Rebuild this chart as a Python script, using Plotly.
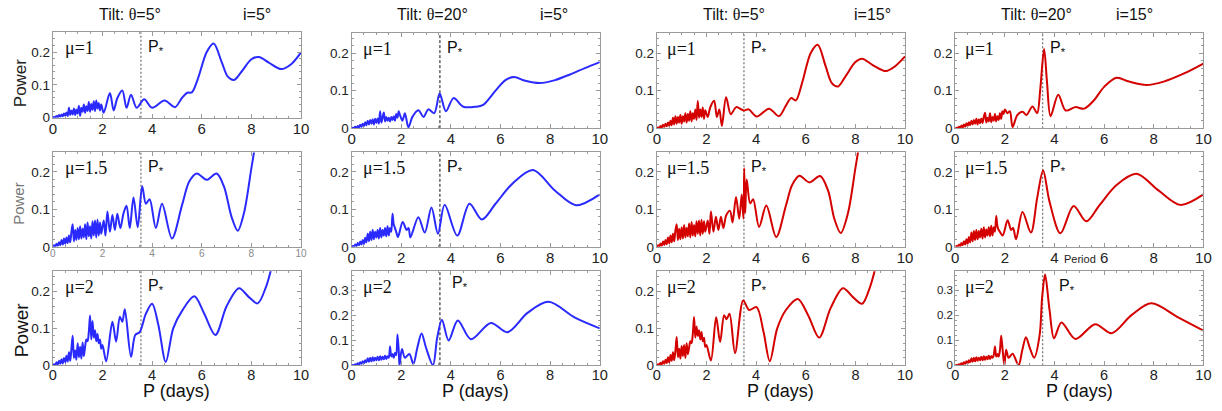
import plotly.graph_objects as go

W, H = 1222, 411

# ---------------- data ----------------
NOISE_P = [0.00, 0.05, 0.10, 0.15, 0.20, 0.25, 0.30, 0.35, 0.40, 0.45,
           0.50, 0.55, 0.60, 0.65, 0.70, 0.75, 0.80, 0.85, 0.90, 0.95,
           1.00, 1.05, 1.10, 1.15, 1.20, 1.25, 1.30, 1.35, 1.40, 1.45,
           1.50, 1.55, 1.60, 1.65, 1.70, 1.75, 1.80, 1.85, 1.90, 1.95]

# Row 1, column 1 (tilt 5, i=5, mu=1)
R1C1_NOISE = [0.000, 0.002, 0.001, 0.005, 0.002, 0.008, 0.003, 0.010, 0.004, 0.013,
              0.006, 0.016, 0.005, 0.030, 0.008, 0.022, 0.010, 0.028, 0.008, 0.025,
              0.012, 0.036, 0.006, 0.030, 0.018, 0.040, 0.015, 0.035, 0.020, 0.048,
              0.018, 0.042, 0.024, 0.050, 0.020, 0.052, 0.028, 0.045, 0.022, 0.040]
R1C1_P = [2.05, 2.3, 2.45, 2.6, 2.8, 2.97, 3.15, 3.38, 3.68, 4.0, 4.5, 4.92, 5.2, 5.42,
          5.6, 5.85, 6.2, 6.48, 6.8, 7.05, 7.3, 7.6, 8.0, 8.3, 8.7, 9.2, 9.6, 10.0]
R1C1_POW = [0.015, 0.075, 0.022, 0.06, 0.083, 0.03, 0.07, 0.03, 0.056, 0.03, 0.052, 0.032,
            0.06, 0.076, 0.077, 0.12, 0.2, 0.226, 0.17, 0.125, 0.115, 0.14, 0.178, 0.185,
            0.168, 0.148, 0.163, 0.199]

# Row 2, column 1 (mu=1.5)
R2C1_NOISE = [0.000, 0.004, 0.001, 0.008, 0.003, 0.012, 0.004, 0.018, 0.006, 0.022,
              0.008, 0.025, 0.010, 0.030, 0.012, 0.040, 0.060, 0.015, 0.045, 0.018,
              0.050, 0.020, 0.055, 0.022, 0.048, 0.025, 0.060, 0.020, 0.065, 0.028,
              0.055, 0.022, 0.068, 0.030, 0.070, 0.025, 0.072, 0.030, 0.065, 0.035]
R2C1_P = [2.05, 2.12, 2.2, 2.3, 2.4, 2.5, 2.6, 2.72, 2.85, 2.97, 3.1, 3.25, 3.42, 3.6,
          3.75, 3.9, 4.15, 4.4, 4.8, 5.2, 5.5, 5.8, 6.2, 6.6, 6.9, 7.2, 7.45, 7.7, 8.0,
          8.2, 8.4]
R2C1_POW = [0.07, 0.03, 0.094, 0.04, 0.085, 0.045, 0.088, 0.05, 0.09, 0.11, 0.05, 0.132,
            0.052, 0.162, 0.115, 0.127, 0.05, 0.115, 0.022, 0.11, 0.175, 0.196, 0.179,
            0.196, 0.16, 0.08, 0.043, 0.09, 0.21, 0.29, 0.36]

# Row 3, column 1 (mu=2)
R3C1_NOISE = [0.000, 0.003, 0.001, 0.008, 0.002, 0.012, 0.004, 0.016, 0.005, 0.020,
              0.008, 0.026, 0.010, 0.035, 0.012, 0.045, 0.080, 0.020, 0.040, 0.015,
              0.060, 0.022, 0.050, 0.018, 0.062, 0.025, 0.050, 0.070, 0.065, 0.090,
              0.135, 0.070, 0.120, 0.075, 0.095, 0.065, 0.085, 0.060, 0.070, 0.045]
R3C1_P = [2.0, 2.15, 2.4, 2.55, 2.7, 2.8, 2.9, 3.15, 3.32, 3.5, 3.75, 4.0, 4.25, 4.55,
          4.85, 5.2, 5.7, 6.1, 6.55, 7.0, 7.5, 7.9, 8.25, 8.6, 8.9, 9.1]
R3C1_POW = [0.055, 0.011, 0.118, 0.064, 0.132, 0.118, 0.152, 0.023, 0.082, 0.09, 0.14,
            0.167, 0.11, 0.009, 0.1, 0.147, 0.187, 0.14, 0.082, 0.16, 0.209, 0.185,
            0.168, 0.215, 0.29, 0.35]

# Row 1, column 2 (tilt 20, i=5, mu=1)
R1C2_NOISE = [0.000, 0.001, 0.000, 0.004, 0.001, 0.006, 0.002, 0.009, 0.004, 0.012,
              0.005, 0.016, 0.008, 0.020, 0.010, 0.022, 0.012, 0.024, 0.010, 0.025,
              0.014, 0.026, 0.012, 0.045, 0.015, 0.028, 0.042, 0.018, 0.030, 0.020,
              0.028, 0.018, 0.030, 0.022, 0.032, 0.020, 0.038, 0.028, 0.045, 0.035]
R1C2_P = [2.05, 2.15, 2.29, 2.45, 2.69, 2.9, 3.09, 3.33, 3.55, 3.8, 4.11, 4.5, 5.0, 5.3,
          5.8, 6.2, 6.55, 7.0, 7.58, 8.2, 8.8, 9.4, 10.0]
R1C2_POW = [0.02, 0.04, 0.002, 0.03, 0.048, 0.03, 0.05, 0.04, 0.092, 0.045, 0.08, 0.057,
            0.057, 0.062, 0.1, 0.128, 0.136, 0.126, 0.12, 0.128, 0.143, 0.16, 0.176]

# Row 2, column 2
R2C2_NOISE = [0.000, 0.002, 0.001, 0.006, 0.002, 0.010, 0.004, 0.014, 0.006, 0.018,
              0.008, 0.024, 0.012, 0.035, 0.015, 0.040, 0.018, 0.045, 0.020, 0.040,
              0.025, 0.045, 0.022, 0.050, 0.025, 0.045, 0.030, 0.050, 0.028, 0.055,
              0.030, 0.050, 0.040, 0.088, 0.060, 0.050, 0.040]
R2C2_P = [1.87, 2.06, 2.22, 2.3, 2.37, 2.69, 2.95, 3.22, 3.48, 3.75, 4.26, 4.75, 5.25,
          5.8, 6.5, 7.31, 8.2, 9.04, 10.0]
R2C2_POW = [0.026, 0.066, 0.045, 0.05, 0.025, 0.079, 0.038, 0.105, 0.035, 0.112, 0.03,
            0.115, 0.073, 0.115, 0.17, 0.205, 0.15, 0.111, 0.14]

# Row 3, column 2
R3C2_NOISE = [0.000, 0.001, 0.000, 0.004, 0.002, 0.008, 0.003, 0.012, 0.006, 0.016,
              0.008, 0.020, 0.012, 0.028, 0.014, 0.030, 0.016, 0.032, 0.018, 0.030,
              0.020, 0.034, 0.020, 0.036, 0.022, 0.034, 0.024, 0.038, 0.025, 0.036,
              0.030, 0.075, 0.035, 0.045, 0.030, 0.050, 0.040, 0.123, 0.060]
R3C2_P = [1.93, 2.03, 2.15, 2.33, 2.49, 2.65, 2.82, 3.0, 3.28, 3.45, 3.64, 3.91, 4.28,
          4.81, 5.61, 6.28, 7.1, 7.94, 9.0, 10.0]
R3C2_POW = [0.0, 0.065, 0.03, 0.045, 0.005, 0.07, 0.127, 0.07, 0.0, 0.11, 0.182, 0.099,
            0.179, 0.104, 0.169, 0.132, 0.21, 0.253, 0.19, 0.147]

# Row 1, column 3 (tilt 5, i=15, mu=1)
R1C3_NOISE = [0.000, 0.002, 0.001, 0.006, 0.002, 0.009, 0.004, 0.012, 0.005, 0.015,
              0.006, 0.020, 0.008, 0.028, 0.010, 0.032, 0.012, 0.030, 0.015, 0.035,
              0.012, 0.032, 0.018, 0.040, 0.015, 0.038, 0.020, 0.045, 0.018, 0.040,
              0.025, 0.050, 0.022, 0.072, 0.028, 0.050, 0.030, 0.055, 0.025, 0.048]
R1C3_P = [2.05, 2.15, 2.31, 2.42, 2.52, 2.62, 2.79, 2.98, 3.2, 3.5, 3.7, 4.02, 4.52,
          4.92, 5.2, 5.41, 5.6, 5.85, 6.2, 6.48, 6.8, 7.05, 7.3, 7.6, 8.0, 8.27, 8.7,
          9.23, 9.6, 10.0]
R1C3_POW = [0.03, 0.055, 0.073, 0.03, 0.05, 0.006, 0.082, 0.037, 0.056, 0.047, 0.05,
            0.031, 0.052, 0.032, 0.06, 0.08, 0.074, 0.12, 0.2, 0.222, 0.165, 0.12,
            0.111, 0.138, 0.176, 0.185, 0.168, 0.152, 0.165, 0.191]

# Row 2, column 3
R2C3_NOISE = [0.000, 0.004, 0.001, 0.009, 0.003, 0.014, 0.005, 0.018, 0.007, 0.025,
              0.009, 0.030, 0.012, 0.035, 0.015, 0.045, 0.060, 0.018, 0.048, 0.020,
              0.052, 0.022, 0.058, 0.025, 0.050, 0.028, 0.062, 0.025, 0.066, 0.030,
              0.058, 0.028, 0.068, 0.035, 0.070, 0.030, 0.072, 0.035, 0.068, 0.040]
R2C3_P = [2.05, 2.12, 2.18, 2.28, 2.38, 2.48, 2.58, 2.68, 2.8, 2.95, 3.05, 3.19, 3.32,
          3.42, 3.49, 3.52, 3.56, 3.62, 3.76, 3.88, 4.12, 4.41, 4.81, 5.2, 5.45, 5.74,
          6.15, 6.58, 6.9, 7.15, 7.41, 7.7, 8.0, 8.2, 8.4]
R2C3_POW = [0.07, 0.035, 0.094, 0.04, 0.08, 0.045, 0.08, 0.05, 0.085, 0.096, 0.065,
            0.133, 0.075, 0.14, 0.075, 0.21, 0.09, 0.18, 0.116, 0.127, 0.053, 0.11,
            0.026, 0.11, 0.165, 0.19, 0.172, 0.189, 0.15, 0.075, 0.037, 0.09, 0.21,
            0.29, 0.36]

# Row 3, column 3
R3C3_NOISE = [0.000, 0.003, 0.001, 0.007, 0.002, 0.011, 0.004, 0.015, 0.006, 0.022,
              0.008, 0.028, 0.012, 0.035, 0.014, 0.040, 0.077, 0.022, 0.045, 0.018,
              0.052, 0.025, 0.055, 0.020, 0.060, 0.030, 0.048, 0.065, 0.060, 0.085,
              0.131, 0.075, 0.105, 0.080, 0.095, 0.070, 0.090, 0.065, 0.075, 0.050]
R3C3_P = [2.0, 2.18, 2.39, 2.55, 2.71, 2.81, 2.93, 3.15, 3.48, 3.72, 4.02, 4.3, 4.55,
          4.85, 5.2, 5.68, 6.1, 6.54, 7.0, 7.5, 7.9, 8.27, 8.6, 8.9, 9.1]
R3C3_POW = [0.055, 0.013, 0.13, 0.063, 0.136, 0.125, 0.14, 0.033, 0.176, 0.15, 0.158,
            0.09, 0.011, 0.1, 0.15, 0.18, 0.135, 0.075, 0.155, 0.209, 0.185, 0.167,
            0.215, 0.29, 0.35]

# Row 1, column 4 (tilt 20, i=15, mu=1)
R1C4_NOISE = [0.000, 0.001, 0.000, 0.004, 0.001, 0.007, 0.002, 0.010, 0.004, 0.013,
              0.006, 0.016, 0.008, 0.020, 0.010, 0.022, 0.012, 0.025, 0.010, 0.024,
              0.013, 0.026, 0.014, 0.030, 0.041, 0.015, 0.028, 0.018, 0.040, 0.016,
              0.030, 0.020, 0.038, 0.018, 0.032, 0.022, 0.040, 0.025, 0.045, 0.038]
R1C4_P = [2.0, 2.1, 2.2, 2.31, 2.5, 2.71, 2.87, 3.11, 3.3, 3.42, 3.58, 3.7, 3.84, 4.15,
          4.45, 4.84, 5.2, 5.6, 6.0, 6.5, 7.0, 7.7, 8.4, 9.2, 10.0]
R1C4_POW = [0.05, 0.04, 0.045, 0.003, 0.035, 0.044, 0.035, 0.058, 0.04, 0.1, 0.211,
            0.12, 0.032, 0.089, 0.047, 0.056, 0.052, 0.075, 0.11, 0.134, 0.124, 0.115,
            0.124, 0.145, 0.172]

# Row 2, column 4
R2C4_NOISE = [0.000, 0.002, 0.001, 0.006, 0.002, 0.010, 0.004, 0.015, 0.006, 0.020,
              0.008, 0.026, 0.012, 0.038, 0.015, 0.042, 0.018, 0.045, 0.020, 0.042,
              0.025, 0.048, 0.022, 0.052, 0.025, 0.046, 0.030, 0.052, 0.028, 0.056,
              0.030, 0.052, 0.040, 0.082, 0.055, 0.045, 0.040]
R2C4_P = [1.91, 2.11, 2.25, 2.33, 2.45, 2.71, 3.05, 3.3, 3.54, 3.8, 4.24, 4.77, 5.28,
          5.8, 6.5, 7.3, 8.2, 9.07, 10.0]
R2C4_POW = [0.03, 0.071, 0.045, 0.05, 0.02, 0.093, 0.038, 0.13, 0.204, 0.12, 0.036,
            0.109, 0.068, 0.11, 0.165, 0.195, 0.15, 0.112, 0.14]

# Row 3, column 4
R3C4_NOISE = [0.000, 0.001, 0.000, 0.004, 0.002, 0.008, 0.003, 0.012, 0.006, 0.016,
              0.008, 0.020, 0.012, 0.028, 0.014, 0.030, 0.016, 0.032, 0.018, 0.030,
              0.020, 0.034, 0.020, 0.036, 0.022, 0.034, 0.024, 0.038, 0.025, 0.036,
              0.030, 0.040, 0.075, 0.035, 0.045, 0.035, 0.060, 0.118, 0.070]
R3C4_P = [1.98, 2.05, 2.15, 2.31, 2.55, 2.7, 2.85, 3.0, 3.18, 3.4, 3.5, 3.62, 3.8, 3.98,
          4.28, 4.84, 5.64, 6.3, 7.1, 7.9, 9.0, 10.0]
R3C4_POW = [0.0, 0.062, 0.03, 0.046, 0.0, 0.06, 0.112, 0.07, 0.03, 0.12, 0.27, 0.362,
            0.22, 0.108, 0.171, 0.105, 0.164, 0.128, 0.2, 0.247, 0.19, 0.138]

MU_LABELS = ["μ=1", "μ=1.5", "μ=2"]
TILT_DEG = ["5", "20", "5", "20"]
INC_DEG = ["5", "5", "15", "15"]
P_STAR = [3.55, 3.56, 3.51, 3.52]
Y_MAX = [[0.26, 0.2525, 0.2525, 0.2525],
         [0.252, 0.252, 0.252, 0.252],
         [0.255, 0.375, 0.255, 0.375]]
X_TICKS = [0, 2, 4, 6, 8, 10]

PANELS = [
    [(R1C1_NOISE, R1C1_P, R1C1_POW), (R1C2_NOISE, R1C2_P, R1C2_POW),
     (R1C3_NOISE, R1C3_P, R1C3_POW), (R1C4_NOISE, R1C4_P, R1C4_POW)],
    [(R2C1_NOISE, R2C1_P, R2C1_POW), (R2C2_NOISE, R2C2_P, R2C2_POW),
     (R2C3_NOISE, R2C3_P, R2C3_POW), (R2C4_NOISE, R2C4_P, R2C4_POW)],
    [(R3C1_NOISE, R3C1_P, R3C1_POW), (R3C2_NOISE, R3C2_P, R3C2_POW),
     (R3C3_NOISE, R3C3_P, R3C3_POW), (R3C4_NOISE, R3C4_P, R3C4_POW)],
]

# ---------------- layout (page pixels) ----------------
COL_X = [(49.3, 300.0), (351.0, 601.7), (659.3, 910.0), (960.7, 1211.3)]
ROW_Y = [[(33.0, 120.0), (34.0, 130.7), (34.0, 130.7), (34.0, 130.7)],
         [(155.5, 251.7)] * 4,
         [(276.7, 372.5)] * 4]
LINE_COLORS = ["#2a2aff", "#2a2aff", "#d40000", "#d40000"]
SANS = "Liberation Sans, Arial, sans-serif"
SERIF = "Liberation Serif, Times New Roman, serif"
FRAME = "#9a9a9a"

fig = go.Figure()
layout = dict(width=W, height=H, margin=dict(l=0, r=0, t=0, b=0),
              paper_bgcolor="white", plot_bgcolor="white", showlegend=False,
              font=dict(family=SANS, color="#222"))
annotations = []
shapes = []


def px_x(p):
    return p / W


def px_y(p):
    return 1 - p / H


for r in range(3):
    for c in range(4):
        n = r * 4 + c + 1
        xa = "xaxis" if n == 1 else f"xaxis{n}"
        ya = "yaxis" if n == 1 else f"yaxis{n}"
        xr = "x" if n == 1 else f"x{n}"
        yr = "y" if n == 1 else f"y{n}"
        noise, tp, tpow = PANELS[r][c]
        xs = NOISE_P[:len(noise)] + tp
        ys = noise + tpow
        fig.add_trace(go.Scatter(x=xs, y=ys, mode="lines", xaxis=xr, yaxis=yr,
                                 line=dict(color=LINE_COLORS[c], width=2,
                                           shape="spline", smoothing=0.9),
                                 hoverinfo="skip"))
        x0, x1 = COL_X[c]
        top, bot = ROW_Y[r][c]
        xt_size, xt_color = 15, "#222"
        if r == 1 and c == 0:
            xt_size, xt_color = 10, "#8a8a8a"
        if r == 2:
            xt_size = 14.5
        yt_size = 11.5 if (r == 2 and c == 3) else 13.5
        layout[xa] = dict(domain=[px_x(x0), px_x(x1)], anchor=yr, range=[0, 10],
                          tickvals=X_TICKS, ticks="inside", ticklen=4, tickcolor=FRAME,
                          showline=True, linecolor=FRAME, linewidth=1, mirror="ticks",
                          showgrid=False, zeroline=False,
                          ticklabelstandoff=(-4 if r == 2 else -3),
                          minor=dict(dtick=0.5, ticklen=2, ticks="inside", tickcolor=FRAME),
                          tickfont=dict(size=xt_size, color=xt_color, family=SANS))
        layout[ya] = dict(domain=[px_y(bot), px_y(top)], anchor=xr,
                          range=[0, Y_MAX[r][c]], dtick=0.1, ticks="inside", ticklen=4,
                          tickcolor=FRAME, showline=True, linecolor=FRAME, linewidth=1,
                          mirror="ticks", showgrid=False, zeroline=False,
                          ticklabelstandoff=-1,
                          minor=dict(dtick=0.02, ticklen=2, ticks="inside", tickcolor=FRAME),
                          tickfont=dict(size=yt_size, color="#222", family=SANS))
        # P* dashed line
        if c == 1:
            dline = dict(color="#111", width=1, dash="3px,2px")
        else:
            dline = dict(color="#777", width=1.3, dash="2px,2px")
        shapes.append(dict(type="line", xref=xr, yref=f"{yr} domain", x0=P_STAR[c],
                           x1=P_STAR[c], y0=0, y1=1, line=dline, layer="below"))
        # mu label
        annotations.append(dict(text=MU_LABELS[r], xref="paper", yref="paper",
                                x=px_x(x0 + (10 if c < 2 else 8)), y=px_y(top + 16),
                                xanchor="left", yanchor="middle", showarrow=False,
                                font=dict(family=SERIF, size=18, color="#111")))
        # P* label
        pshift = 5
        py = top + 15
        if r == 2 and c == 1:
            pshift, py = 10, top + 12
        if r == 2 and c == 3:
            pshift, py = 14, top + 15
        annotations.append(dict(text="P<sub>*</sub>", xref=xr, yref="paper",
                                x=P_STAR[c], xshift=pshift, y=px_y(py),
                                xanchor="left", yanchor="middle", showarrow=False,
                                font=dict(family=SANS, size=16, color="#111")))

# column titles
TITLE_X = [(127.5, 256.0), (432.5, 555.0), (737.0, 876.7), (1042.5, 1142.0)]
for c in range(4):
    tx, ix = TITLE_X[c]
    annotations.append(dict(
        text=f'Tilt: <span style="font-family:{SERIF}">θ</span>={TILT_DEG[c]}°',
        xref="paper", yref="paper", x=px_x(tx), y=px_y(15), xanchor="center",
        yanchor="middle", showarrow=False, font=dict(family=SANS, size=16, color="#111")))
    annotations.append(dict(
        text=f"i={INC_DEG[c]}°", xref="paper", yref="paper", x=px_x(ix), y=px_y(15),
        xanchor="center", yanchor="middle", showarrow=False,
        font=dict(family=SANS, size=16, color="#111")))
    cx = (COL_X[c][0] + COL_X[c][1]) / 2
    annotations.append(dict(
        text="P (days)", xref="paper", yref="paper", x=px_x(cx), y=px_y(399),
        xanchor="center", yanchor="middle", showarrow=False,
        font=dict(family=SANS, size=18, color="#111")))

# y-axis titles (first column)
POWER_LABELS = [(17, 84, 17, "#222"), (15, 207, 15, "#777"), (18, 336, 19, "#111")]
for (xp, yp, sz, col) in POWER_LABELS:
    annotations.append(dict(text="Power", xref="paper", yref="paper", x=px_x(xp),
                            y=px_y(yp), xanchor="center", yanchor="middle",
                            textangle=-90, showarrow=False,
                            font=dict(family=SANS, size=sz, color=col)))

annotations.append(dict(text="Period", xref="paper", yref="paper", x=px_x(1087),
                        y=px_y(264), xanchor="center", yanchor="middle", showarrow=False,
                        font=dict(family=SANS, size=11, color="#222")))

layout["annotations"] = annotations
layout["shapes"] = shapes
fig.update_layout(**layout)
fig.write_html("out.html",
               config={"displayModeBar": False, "staticPlot": True},
               post_script="document.body.style.margin='0';"
                           "document.body.style.overflow='hidden';")
